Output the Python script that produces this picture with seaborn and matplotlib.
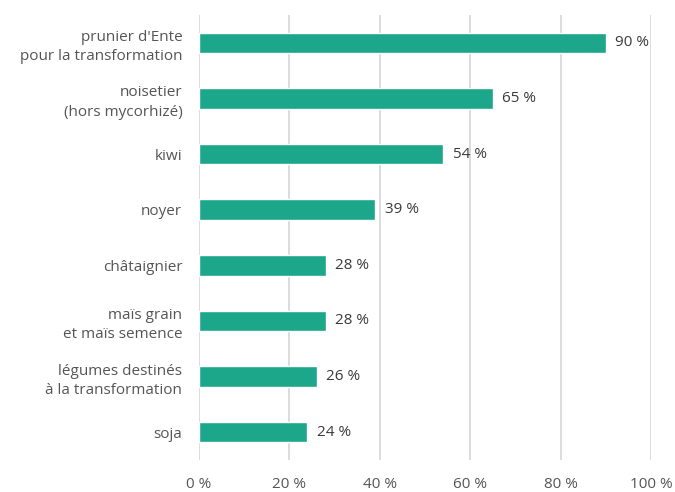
import matplotlib
matplotlib.use("Agg")
import matplotlib.pyplot as plt
import seaborn as sns
import pandas as pd

categories = [
    "prunier d'Ente\npour la transformation",
    "noisetier\n(hors mycorhizé)",
    "kiwi",
    "noyer",
    "châtaignier",
    "maïs grain\net maïs semence",
    "légumes destinés\nà la transformation",
    "soja",
]
values = [90, 65, 54, 39, 28, 28, 26, 24]
xticks = [0, 20, 40, 60, 80, 100]

df = pd.DataFrame({"culture": categories, "part": values})

sns.set_theme(style="white")
plt.rcParams["font.family"] = ["Open Sans", "DejaVu Sans"]

fig = plt.figure(figsize=(6.75, 4.92), dpi=100)
ax = fig.add_axes([0.2948, 0.065, 0.6696, 0.9045])

sns.barplot(data=df, x="part", y="culture", color="#1ca78b", width=0.37,
            saturation=1, ax=ax, orient="h")

ax.set_xlim(0, 100)
ax.set_ylim(7.5, -0.5)
ax.set_xticks(xticks)
ax.set_xticklabels([f"{t} %" for t in xticks])
ax.xaxis.grid(True, color="#d9d9d9", linewidth=1.3)
ax.set_axisbelow(True)
for s in ax.spines.values():
    s.set_visible(False)
ax.set_xlabel("")
ax.set_ylabel("")
ax.tick_params(axis="x", length=0, pad=12, labelsize=11, labelcolor="#555555")
ax.tick_params(axis="y", length=0, pad=12, labelsize=11, labelcolor="#555555")
for lbl in ax.get_yticklabels():
    lbl.set_multialignment("right")
    lbl.set_linespacing(1.4)

ax.bar_label(ax.containers[0], labels=[f"{v} %" for v in values], padding=7,
             fontsize=11, color="#3a3a3a")

fig.savefig("out.png", dpi=100)
